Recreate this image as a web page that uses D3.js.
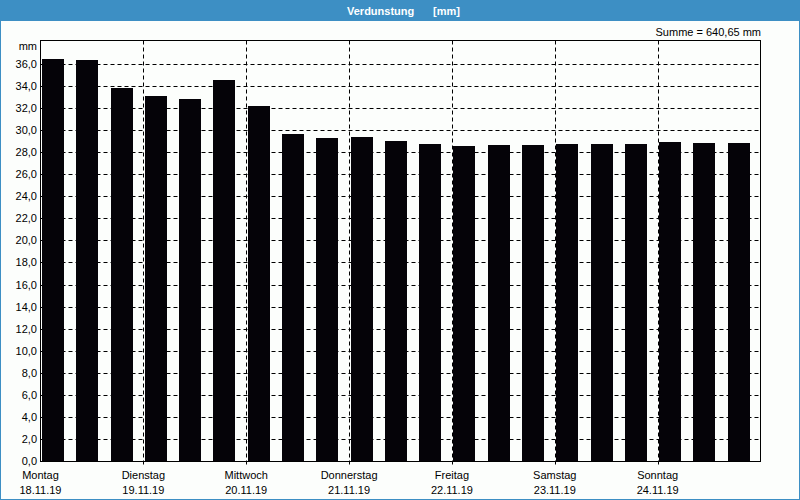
<!DOCTYPE html>
<html><head><meta charset="utf-8">
<script src="https://cdn.jsdelivr.net/npm/d3@7/dist/d3.min.js"></script>
<style>body{margin:0;background:#fcfefc;overflow:hidden}svg{display:block}</style></head>
<body><svg id="c" width="800" height="500"></svg>
<script>
const title = "Verdunstung";
const unitLabel = "[mm]";
const sumLabel = "Summe = 640,65 mm";
const yUnit = "mm";
const days = ["Montag","Dienstag","Mittwoch","Donnerstag","Freitag","Samstag","Sonntag"];
const dates = ["18.11.19","19.11.19","20.11.19","21.11.19","22.11.19","23.11.19","24.11.19"];
const values = [36.41,36.32,33.79,33.06,32.79,34.51,32.2,
                29.62,29.26,29.35,28.99,28.74,28.53,28.62,
                28.62,28.71,28.71,28.71,28.89,28.8,28.8];
const yTicks = [0,2,4,6,8,10,12,14,16,18,20,22,24,26,28,30,32,34,36];

const svg = d3.select("#c");
const L = 40.5, R = 760.5, T = 40.5, B = 461.5;
const font = "'Liberation Sans', Arial, sans-serif";

// background + window frame
svg.append("rect").attr("x",0).attr("y",0).attr("width",800).attr("height",500).attr("fill","#fcfefc");
svg.append("rect").attr("x",0.5).attr("y",0.5).attr("width",799).attr("height",499).attr("fill","none").attr("stroke","#3d8fc4");
svg.append("rect").attr("x",0).attr("y",0).attr("width",800).attr("height",21).attr("fill","#3d8fc4");
svg.append("text").attr("x",347).attr("y",15).attr("fill","#fff").attr("font-family",font)
  .attr("font-weight","bold").attr("font-size","11px").text(title);
svg.append("text").attr("x",433).attr("y",15).attr("fill","#fff").attr("font-family",font)
  .attr("font-weight","bold").attr("font-size","11px").text(unitLabel);

const x = d3.scaleBand().domain(d3.range(values.length)).range([L, R]).paddingInner(0).paddingOuter(0);
const xDay = d3.scaleLinear().domain([0, days.length]).range([L, R]);
const y = d3.scaleLinear().domain([0, 38.17]).range([B - 0.5, T - 0.5]);

// horizontal grid
svg.append("g").selectAll("line").data(yTicks.filter(v => v > 0)).join("line")
  .attr("x1", L).attr("x2", R)
  .attr("y1", d => Math.round(y(d)) + 0.5).attr("y2", d => Math.round(y(d)) + 0.5)
  .attr("stroke","#000").attr("stroke-dasharray","4,3");
// vertical day grid
svg.append("g").selectAll("line").data(d3.range(1, days.length)).join("line")
  .attr("x1", d => Math.round(xDay(d)) + 0.5).attr("x2", d => Math.round(xDay(d)) + 0.5)
  .attr("y1", T).attr("y2", B + 3)
  .attr("stroke","#000").attr("stroke-dasharray","4,3");

// bars
svg.append("g").selectAll("rect").data(values).join("rect")
  .attr("x", (d,i) => Math.round(x(i) + 1.5))
  .attr("width", Math.round(x.bandwidth() * 0.64))
  .attr("y", d => Math.round(y(d)))
  .attr("height", d => B - 0.5 - Math.round(y(d)))
  .attr("fill","#050308");

// frame
svg.append("rect").attr("x",L).attr("y",T).attr("width",R-L).attr("height",B-T)
  .attr("fill","none").attr("stroke","#000");

// y labels
svg.append("g").selectAll("text").data(yTicks).join("text")
  .attr("x", 37).attr("y", d => Math.round(y(d)) + 4)
  .attr("text-anchor","end").attr("font-family",font).attr("font-size","11px").attr("fill","#000")
  .text(d => d3.format(".1f")(d).replace(".", ","));
svg.append("text").attr("x",37).attr("y",50).attr("text-anchor","end")
  .attr("font-family",font).attr("font-size","11px").text(yUnit);

// x labels
svg.append("g").selectAll("text").data(days).join("text")
  .attr("x", (d,i) => xDay(i)).attr("y", 479).attr("text-anchor","middle")
  .attr("font-family",font).attr("font-size","11px").text(d => d);
svg.append("g").selectAll("text").data(dates).join("text")
  .attr("x", (d,i) => xDay(i)).attr("y", 494).attr("text-anchor","middle")
  .attr("font-family",font).attr("font-size","11px").text(d => d);

// sum
svg.append("text").attr("x",761).attr("y",36).attr("text-anchor","end")
  .attr("font-family",font).attr("font-size","11px").text(sumLabel);
</script></body></html>
